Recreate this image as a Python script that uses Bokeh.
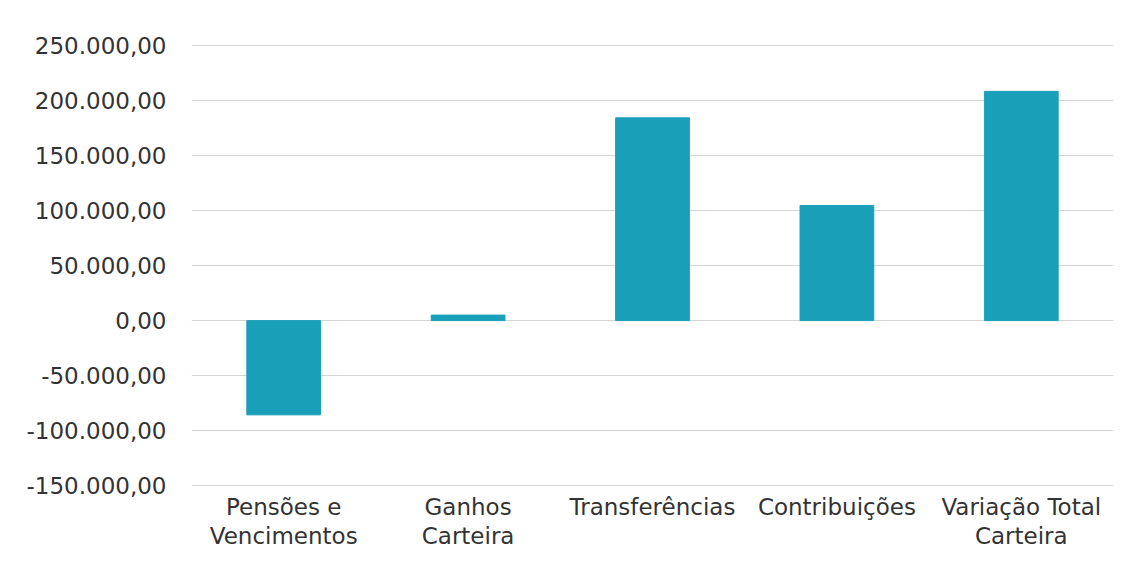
from bokeh.plotting import figure
from bokeh.models import FixedTicker, Range1d, ColumnDataSource
from bokeh.embed import file_html
from bokeh.resources import INLINE

categories = ["Pensões e\nVencimentos", "Ganhos\nCarteira", "Transferências",
              "Contribuições", "Variação Total\nCarteira"]
values = [-85500, 5000, 184000, 104500, 208000]
y_ticks = [-150000, -100000, -50000, 0, 50000, 100000, 150000, 200000, 250000]
y_tick_labels = ["-150.000,00", "-100.000,00", "-50.000,00", "0,00", "50.000,00",
                 "100.000,00", "150.000,00", "200.000,00", "250.000,00"]

FONT = "DejaVu Sans"
TXT = "#333333"

src = ColumnDataSource(dict(cat=categories, val=values))

p = figure(x_range=categories, y_range=Range1d(-150500, 250500),
           frame_width=922, frame_height=442, output_backend="svg", toolbar_location=None,
           min_border_left=191, min_border_right=8, min_border_top=44, min_border_bottom=10)
p.vbar(x="cat", top="val", bottom=0, width=0.4, source=src,
       fill_color="#1a9fb9", line_color="#1a9fb9")

p.outline_line_color = None
p.xgrid.grid_line_color = None
p.ygrid.grid_line_color = "#d4d4d4"
p.ygrid.grid_line_width = 1

p.yaxis.ticker = FixedTicker(ticks=y_ticks)
p.yaxis.major_label_overrides = {t: l for t, l in zip(y_ticks, y_tick_labels)}
for ax in (p.xaxis, p.yaxis):
    ax.axis_line_color = None
    ax.major_tick_line_color = None
    ax.minor_tick_line_color = None
    ax.major_label_text_font = FONT
    ax.major_label_text_font_size = "23px"
    ax.major_label_text_color = TXT
p.yaxis.major_label_standoff = 19
p.xaxis.major_label_standoff = 1
p.xaxis.major_label_text_line_height = 1.15

open("out.html", "w").write(file_html(p, INLINE))
